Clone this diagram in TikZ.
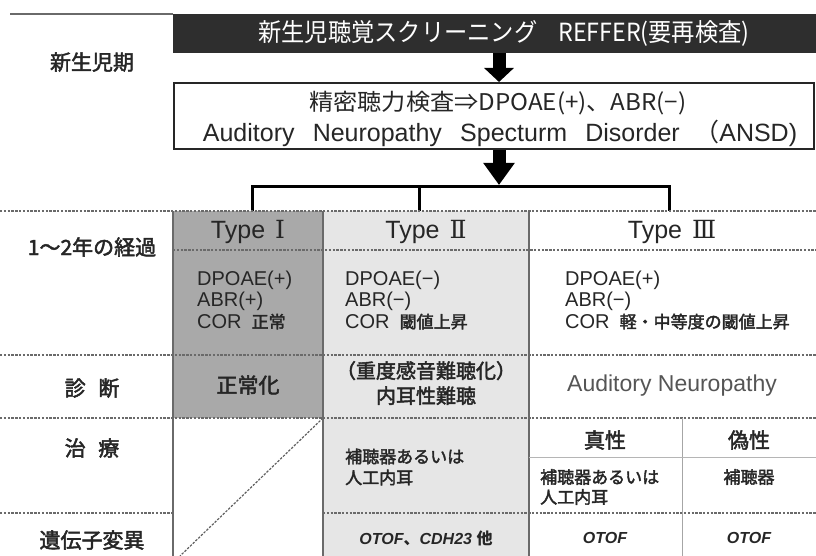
\documentclass[tikz,border=0pt]{standalone}
\usepackage{fontspec}
\setmainfont{Liberation Sans}
\newfontfamily\jp[AutoFakeBold=2.2]{Noto Sans CJK JP}
\newfontfamily\rn{DejaVu Serif}
\usetikzlibrary{arrows.meta}
\definecolor{txt}{HTML}{262626}
\definecolor{gA}{HTML}{A9A9A9}
\definecolor{gB}{HTML}{E6E6E6}
\definecolor{barc}{HTML}{2E2E2E}
\definecolor{rulec}{HTML}{6A6A6A}
\definecolor{gtxt}{HTML}{555555}
\newcommand{\fs}[1]{\fontsize{#1pt}{#1pt}\selectfont}
\begin{document}
\begin{tikzpicture}[x=1pt,y=-1pt,
  dline/.style={draw=rulec, line width=1.2pt, dash pattern=on 2.4pt off 1.4pt},
  vline/.style={draw=rulec, line width=1.3pt},
  lbl/.style={font=\jp\bfseries\fs{21}, text=txt, inner sep=0pt},
  thd/.style={font=\fs{25}, text=txt, inner sep=0pt},
  cell/.style={font=\fs{20}, text=txt, align=left, anchor=west, inner sep=0pt},
  jcell/.style={font=\jp\bfseries\fs{17}, text=txt, inner sep=0pt},
  gene/.style={font=\bfseries\itshape\fs{16}, text=txt, inner sep=0pt},
  barrow/.style={draw=black, line width=13pt},
  brk/.style={draw=black, line width=3pt}
]
\useasboundingbox (0,0) rectangle (816,556);
% fills
\fill[gA] (173,211) rectangle (323,418);
\fill[gB] (323,211) rectangle (529,556);
% top area
\draw[draw=rulec, line width=1.4pt] (10,14) -- (173,14);
\node[fill=barc, anchor=north west, minimum width=643pt, minimum height=39pt, inner sep=0pt] (scr) at (173,14) {};
\node[font=\jp\fs{25}, text=white, inner sep=0pt] (scrt) at (504,33.5) {\scalebox{0.93}[1]{新生児聴覚スクリーニング\hspace{0.9em}REFFER(要再検査)}};
\node[lbl] (l0) at (92,62) {新生児期};
\node[draw=black!85, line width=1.6pt, fill=white, anchor=north west, minimum width=640pt, minimum height=66pt, inner sep=0pt] (ansd) at (173,82) {};
\node[font=\jp\fs{23}, text=txt, inner sep=0pt] (ansd1) at (498,103) {\scalebox{1.05}[1]{精密聴力検査⇒DPOAE(+)、ABR(−)}};
\node[font=\fs{25}, text=txt, inner sep=0pt] (ansd2) at (500,133) {Auditory\hspace{0.45em} Neuropathy\hspace{0.45em} Specturm\hspace{0.45em} Disorder\hspace{0.3em} {\jp （}ANSD)};
\coordinate (axis) at (499,0);
\draw[barrow, -{Triangle[width=29pt,length=14pt]}] (scr.south -| axis) -- (ansd.north -| axis);
\coordinate (brk) at (499,187);
\coordinate (t1) at (252,211);
\coordinate (t2) at (419,211);
\coordinate (t3) at (669,211);
\draw[barrow, -{Triangle[width=30pt,length=22pt]}] (ansd.south -| axis) -- ([yshift=2pt]brk);
\draw[brk] (t1) -- (t1 |- brk) -- (t3 |- brk) -- (t3);
\draw[brk] (t2 |- brk) -- (t2);
% table lines
\draw[dline] (0,211) -- (816,211);
\draw[dline] (173,250) -- (816,250);
\draw[dline] (0,355) -- (816,355);
\draw[dline] (0,418) -- (816,418);
\draw[dline] (0,513) -- (173,513);
\draw[dline] (323,513) -- (816,513);
\draw[dline, draw=rulec!90!black] (323,418) -- (180,556);
\draw[vline] (173,211) -- (173,556);
\draw[vline] (323,211) -- (323,556);
\draw[vline] (529,211) -- (529,556);
\draw[draw=rulec!60, line width=1pt] (682,418) -- (682,556);
\draw[draw=rulec!50, line width=1pt] (529,457) -- (816,457);
% row labels
\node[lbl] (l1) at (92,247) {1〜2年の経過};
\node[lbl] (l2) at (92,388) {診\hspace{0.6em}断};
\node[lbl] (l3) at (92,448) {治\hspace{0.6em}療};
\node[lbl] (l4) at (92,540) {遺伝子変異};
% headers
\node[thd] (ty1) at (248,232) {Type\hspace{0.4em}{\rn Ⅰ}};
\node[thd] (ty2) at (426,232) {Type\hspace{0.4em}{\rn Ⅱ}};
\node[thd] (ty3) at (672,232) {Type\hspace{0.4em}{\rn Ⅲ}};
% content
\node[cell] (c1) at (197,300) {DPOAE(+)\\[1.5pt]ABR(+)\\[1.5pt]COR\hspace{0.5em}{\jp\bfseries\fs{17}正常}};
\node[cell] (c2) at (345,300) {DPOAE(−)\\[1.5pt]ABR(−)\\[1.5pt]COR\hspace{0.5em}{\jp\bfseries\fs{17}閾値上昇}};
\node[cell] (c3) at (565,300) {DPOAE(+)\\[1.5pt]ABR(−)\\[1.5pt]COR\hspace{0.5em}{\jp\bfseries\fs{17}軽・中等度の閾値上昇}};
% diagnosis
\node[lbl] (d1) at (248,385) {正常化};
\node[lbl, align=center, font=\jp\bfseries\fs{20}] (d2) at (426,383) {（重度感音難聴化）\\[5pt]内耳性難聴};
\node[font=\fs{23}, text=gtxt, inner sep=0pt] (d3) at (672,386) {Auditory Neuropathy};
% treatment
\node[jcell, align=left, anchor=west] (tr2) at (345,467) {補聴器あるいは\\[4pt]人工内耳};
\node[lbl] (tr3a) at (605,440) {真性};
\node[lbl] (tr3b) at (749,440) {偽性};
\node[jcell, align=left, anchor=west] (tr3c) at (540,487) {補聴器あるいは\\[3pt]人工内耳};
\node[jcell] (tr3d) at (749,477) {補聴器};
% genes
\node[gene] (g2) at (426,538) {OTOF{\jp\bfseries 、}CDH23 {\jp\bfseries 他}};
\node[gene] (g3a) at (605,538) {OTOF};
\node[gene] (g3b) at (749,538) {OTOF};
\end{tikzpicture}
\end{document}
